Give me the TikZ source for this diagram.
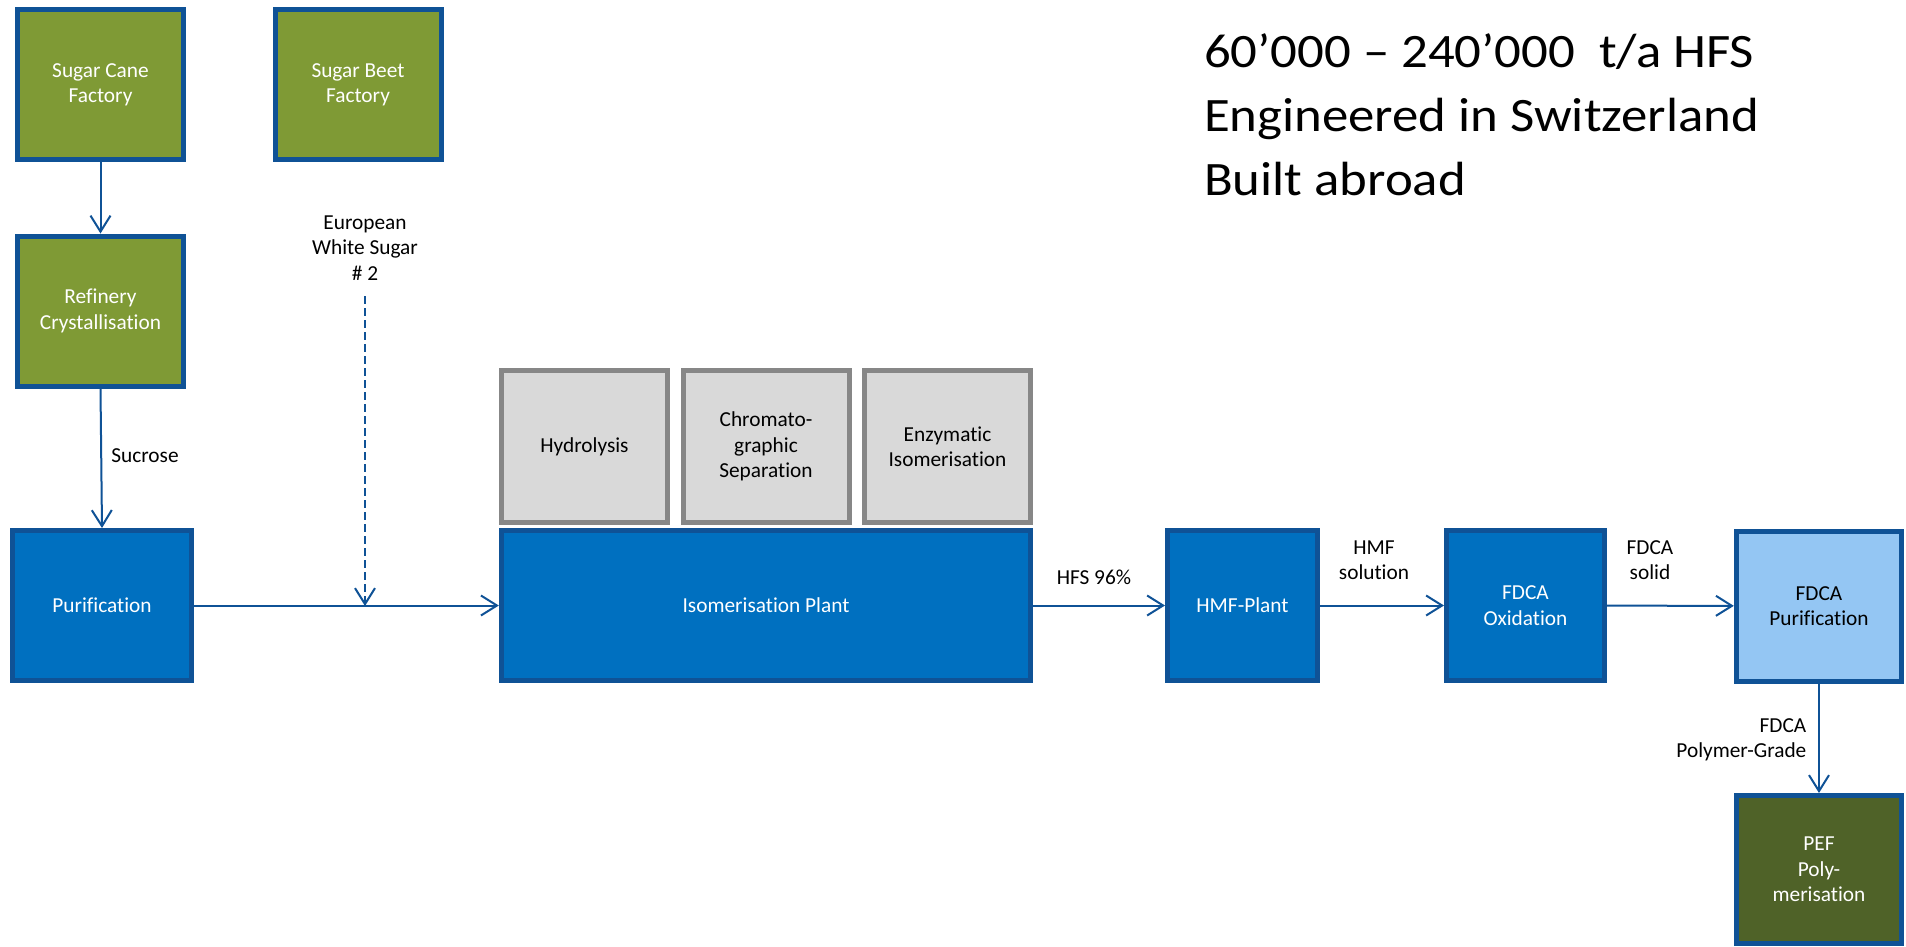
\documentclass[tikz,border=0pt]{standalone}
\usepackage{fontspec}
\setmainfont[Ligatures=NoCommon]{Carlito}
\usepackage{tikz}
\usetikzlibrary{arrows.meta}
\definecolor{leafgreen}{HTML}{7F9A35}
\definecolor{pefgreen}{HTML}{4F6228}
\definecolor{plantblue}{HTML}{0070C0}
\definecolor{paleblue}{HTML}{94C6F3}
\definecolor{edgeblue}{HTML}{0F5296}
\definecolor{stepgray}{HTML}{D9D9D9}
\definecolor{edgegray}{HTML}{878787}
\tikzstyle{arrow} = [-{Straight Barb[length=12pt,width=15pt,line width=1.5pt]},line width=1.5pt,draw=edgeblue]
\tikzstyle{box} = [draw=edgeblue,line width=3.75pt,minimum height=112.5pt,align=center,inner sep=0pt,font=\fontsize{16}{19}\selectfont]
\tikzstyle{greenbox} = [box,fill=leafgreen,text=white,minimum width=124.5pt]
\tikzstyle{bluebox} = [box,fill=plantblue,text=white]
\tikzstyle{graybox} = [box,draw=edgegray,fill=stepgray,minimum width=124.5pt,minimum height=114pt]
\tikzstyle{flow} = [align=center,font=\fontsize{16}{19}\selectfont]

\begin{document}
\begin{tikzpicture}[x=0.75pt,y=-0.75pt]
      \useasboundingbox (0,0) rectangle (1906,946);

      \node[greenbox] (cane) at (100.5, 84.5) {Sugar Cane\\Factory};
      \node[greenbox] (beet) at (358, 84.5) {Sugar Beet\\Factory};
      \node[greenbox] (refinery) at (100.5, 311) {Refinery\\Crystallisation};
      \node[bluebox, minimum width=134pt] (purif) at (102, 605.5) {Purification};
      \node[bluebox, minimum width=397pt] (isomer) at (766, 605.5) {Isomerisation Plant};
      \node[graybox] (hydro) at (584.5, 446.5) {Hydrolysis};
      \node[graybox] (chroma) at (766, 446.5) {Chromato-\\graphic\\Separation};
      \node[graybox] (enzym) at (947.5, 446.5) {Enzymatic\\Isomerisation};
      \node[bluebox, minimum width=112.5pt] (hmf) at (1242.5, 605.5) {HMF-Plant};
      \node[bluebox, minimum width=118.5pt] (oxid) at (1525.5, 605.5) {FDCA\\Oxidation};
      \node[box, fill=paleblue, minimum width=124pt] (fdcapur) at (1819, 606) {FDCA\\Purification};
      \node[box, fill=pefgreen, text=white, minimum width=124pt, minimum height=111pt] (pef) at (1819, 869.5) {PEF\\Poly-\\merisation};

      \node[flow] (sucrose) at (145, 456) {Sucrose};
      \node[flow] (ews) at (365, 248) {European\\White Sugar\\\# 2};
      \node[flow] (hfs) at (1094, 577) {HFS 96\%};
      \node[flow] (hmfsol) at (1374, 560) {HMF\\solution};
      \node[flow] (fdcasol) at (1650, 560) {FDCA\\solid};
      \node[flow, align=right, anchor=east] (grade) at (1811, 740) {FDCA\\Polymer-Grade};
      \node[align=left, anchor=base west, xscale=1.1, font=\fontsize{36}{48}\selectfont] (title) at (1199, 195) {60’000 – 240’000\ \ t/a HFS\\Engineered in Switzerland\\Built abroad};

      \coordinate (ewstop) at (365, 296);
      \coordinate (ewsjoin) at (365, 606);

      \draw[arrow] (cane) -- (refinery);
      \draw[arrow] (refinery.south) -- (purif.north);
      \draw[arrow] (purif) -- (isomer);
      \draw[arrow, dashed, dash pattern=on 6pt off 3pt] (ewstop) -- (ewsjoin);
      \draw[arrow] (isomer) -- (hmf);
      \draw[arrow] (hmf) -- (oxid);
      \draw[arrow] (oxid) -- (fdcapur);
      \draw[arrow] (fdcapur) -- (pef);
    \end{tikzpicture}
\end{document}
